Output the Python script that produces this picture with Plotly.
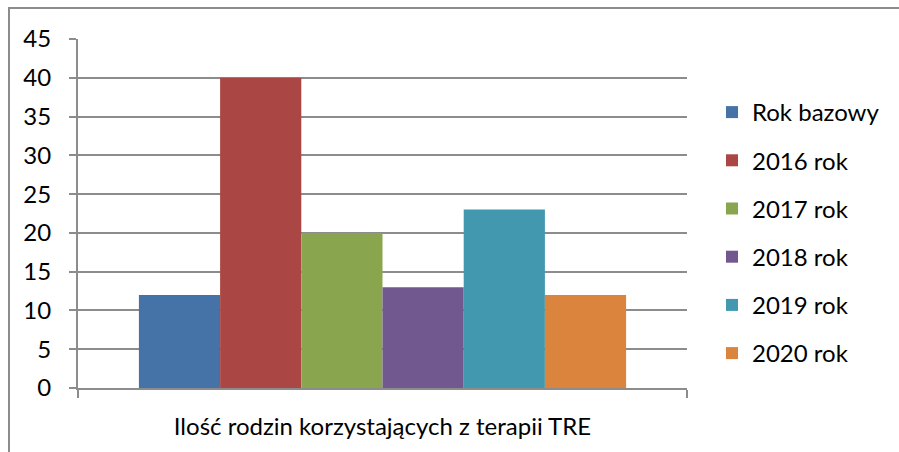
import plotly.graph_objects as go

# Data
category = ["Ilość rodzin korzystających z terapii TRE"]
series_names = ["Rok bazowy", "2016 rok", "2017 rok", "2018 rok", "2019 rok", "2020 rok"]
series_values = [12, 40, 20, 13, 23, 12]
series_colors = ["#4572A7", "#AA4643", "#89A54E", "#71588F", "#4198AF", "#DB843D"]
y_ticks = [0, 5, 10, 15, 20, 25, 30, 35, 40, 45]

W, H = 899, 452
M_L, M_R, M_T, M_B = 78, 212, 39, 64
FONT = "Lato, Carlito, Calibri, sans-serif"
FS = 24
GRID = "#8c8c8c"

fig = go.Figure()
for name, val, col in zip(series_names, series_values, series_colors):
    fig.add_trace(go.Bar(
        x=category, y=[val], name=name, legendgroup=name,
        marker=dict(color=col, line=dict(width=0)),
    ))

plot_w = W - M_L - M_R
plot_h = H - M_T - M_B

fig.update_layout(
    width=W, height=H, autosize=False,
    margin=dict(l=M_L, r=M_R, t=M_T, b=M_B, pad=0),
    paper_bgcolor="white", plot_bgcolor="white",
    barmode="group", bargap=0.2, bargroupgap=0,
    font=dict(family=FONT, size=FS, color="black"),
    showlegend=True,
    legend=dict(
        x=(712 - M_L) / plot_w, xanchor="left",
        y=(388 - 90) / plot_h, yanchor="top",
        font=dict(family=FONT, size=FS, color="black"),
        tracegroupgap=14, bgcolor="rgba(0,0,0,0)",
    ),
    xaxis=dict(
        showline=True, linecolor=GRID, linewidth=2,
        ticks="outside", tickson="boundaries", ticklen=8, tickwidth=2, tickcolor=GRID,
        tickfont=dict(family=FONT, size=FS, color="black"),
        ticklabelstandoff=16,
        showgrid=False, zeroline=False,
    ),
    yaxis=dict(
        range=[0, 45], tickvals=y_ticks,
        showline=True, linecolor=GRID, linewidth=2,
        ticks="outside", ticklen=7, tickwidth=2, tickcolor=GRID,
        showgrid=True, gridcolor=GRID, gridwidth=2,
        zeroline=False,
        tickfont=dict(family=FONT, size=FS, color="black"),
        ticklabelstandoff=13,
    ),
    shapes=[dict(
        type="rect", xref="paper", yref="paper",
        x0=(9 - M_L) / plot_w, x1=1.6,
        y0=-0.5, y1=(388 - 8) / plot_h,
        line=dict(color=GRID, width=2), fillcolor="rgba(0,0,0,0)", layer="below",
    )],
)

fig.write_html("out.html")
